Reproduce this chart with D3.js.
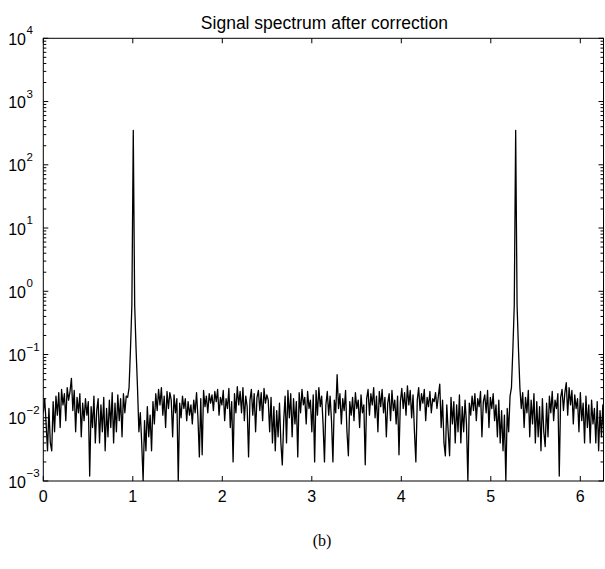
<!DOCTYPE html>
<html>
<head>
<meta charset="utf-8">
<script src="https://cdn.jsdelivr.net/npm/d3@7"></script>
<style>
body { margin: 0; background: #fff; }
text { font-family: "Liberation Sans", Arial, Helvetica, sans-serif; fill: #000; }
</style>
</head>
<body>
<svg id="chart" width="605" height="569"></svg>
<script>
// 谱线数据：401 个采样点，均匀分布在 [0, 2π]
const spectrum = [
  .012,.02,.008,.003,.014,.004,.003,.018,.006,.022,.011,.025,.007,.028,.016,.024,.009,.03,.019,.026,
  .042,.013,.027,.006,.021,.012,.024,.005,.017,.009,.02,.011,.018,.0012,.015,.007,.022,.004,.013,.02,
  .004,.016,.006,.021,.003,.014,.005,.019,.007,.025,.004,.017,.006,.023,.009,.02,.005,.024,.012,.022,
  .021,.03,.12,.6,350,.6,.12,.03,.006,.012,.004,.001,.009,.003,.015,.005,.011,.003,.018,.008,
  .024,.013,.028,.016,.03,.011,.022,.007,.026,.014,.025,.019,.005,.023,.012,.02,.001,.017,.01,.022,
  .014,.02,.009,.018,.011,.016,.008,.019,.012,.025,.01,.0024,.02,.0026,.027,.015,.022,.012,.024,.017,
  .023,.013,.026,.018,.028,.011,.021,.016,.027,.009,.02,.014,.029,.007,.018,.002,.024,.012,.031,.016,
  .026,.012,.03,.009,.022,.015,.0024,.019,.028,.011,.024,.006,.021,.027,.013,.025,.009,.029,.017,.023,
  .019,.006,.021,.004,.015,.003,.013,.005,.017,.004,.0018,.009,.022,.004,.027,.01,.024,.005,.02,.008,
  .018,.0024,.025,.012,.028,.016,.021,.008,.026,.014,.019,.006,.023,.002,.027,.011,.03,.015,.022,.008,
  .002,.016,.026,.011,.022,.009,.002,.019,.012,.048,.014,.024,.008,.02,.013,.027,.006,.0025,.018,.011,
  .021,.009,.025,.014,.019,.007,.023,.012,.016,.0018,.02,.028,.011,.024,.016,.03,.01,.022,.006,.026,
  .015,.028,.012,.021,.005,.017,.024,.009,.027,.013,.019,.008,.022,.0026,.018,.029,.014,.025,.011,.032,
  .016,.027,.01,.023,.006,.002,.019,.03,.013,.024,.017,.028,.009,.021,.015,.026,.012,.02,.018,.025,
  .014,.022,.034,.007,.019,.004,.0025,.016,.006,.0025,.021,.008,.018,.004,.016,.006,.023,.004,.015,.006,
  .019,.008,.001,.017,.011,.022,.013,.024,.009,.02,.015,.026,.005,.018,.023,.012,.027,.007,.021,.014,
  .024,.009,.016,.005,.019,.004,.013,.003,.011,.001,.014,.006,.022,.03,.12,.6,350,.6,.12,.03,
  .014,.025,.007,.021,.012,.027,.005,.019,.008,.024,.004,.018,.005,.015,.003,.02,.006,.0035,.017,.005,
  .022,.012,.026,.009,.019,.014,.024,.0012,.021,.028,.013,.025,.036,.011,.03,.016,.027,.008,.023,.014,
  .02,.006,.025,.009,.017,.004,.022,.007,.016,.004,.019,.008,.014,.004,.018,.003,.013,.005,.016,.004,
  .012
];

const xTicks = [0, 1, 2, 3, 4, 5, 6];
const yExponents = [-3, -2, -1, 0, 1, 2, 3, 4];
const chartTitle = "Signal spectrum after correction";
const caption = "(b)";

// 绘图区域
const plot = { left: 43.3, right: 603.5, top: 38.3, bottom: 481 };
const xMax = (plot.right - plot.left) / 89.5;

const svg = d3.select("#chart");

const x = d3.scaleLinear().domain([0, xMax]).range([plot.left, plot.right]);
const y = d3.scaleLog().domain([1e-3, 1e4]).range([plot.bottom, plot.top]);

const points = spectrum.map((v, i) => ({ x: i * 2 * Math.PI / (spectrum.length - 1), y: v }));

svg.append("clipPath").attr("id", "clip")
  .append("rect")
  .attr("x", plot.left).attr("y", plot.top)
  .attr("width", plot.right - plot.left).attr("height", plot.bottom - plot.top);

// 曲线
const line = d3.line().x(d => x(d.x)).y(d => y(d.y));
svg.append("path")
  .datum(points)
  .attr("clip-path", "url(#clip)")
  .attr("d", line)
  .attr("fill", "none")
  .attr("stroke", "#000")
  .attr("stroke-width", 1.3)
  .attr("stroke-linejoin", "round");

// 刻度
const ticks = svg.append("g").attr("stroke", "#000").attr("stroke-width", 1);
xTicks.forEach(t => {
  const px = x(t);
  ticks.append("line").attr("x1", px).attr("x2", px).attr("y1", plot.bottom).attr("y2", plot.bottom - 5);
  ticks.append("line").attr("x1", px).attr("x2", px).attr("y1", plot.top).attr("y2", plot.top + 5);
});

const minorValues = [];
yExponents.slice(0, -1).forEach(e => {
  for (let k = 2; k <= 9; k++) minorValues.push(k * Math.pow(10, e));
});
yExponents.forEach(e => {
  const py = y(Math.pow(10, e));
  ticks.append("line").attr("x1", plot.left).attr("x2", plot.left + 5).attr("y1", py).attr("y2", py);
  ticks.append("line").attr("x1", plot.right).attr("x2", plot.right - 5).attr("y1", py).attr("y2", py);
});
minorValues.forEach(v => {
  const py = y(v);
  ticks.append("line").attr("x1", plot.left).attr("x2", plot.left + 3).attr("y1", py).attr("y2", py);
  ticks.append("line").attr("x1", plot.right).attr("x2", plot.right - 3).attr("y1", py).attr("y2", py);
});

// 边框
svg.append("rect")
  .attr("x", plot.left).attr("y", plot.top)
  .attr("width", plot.right - plot.left).attr("height", plot.bottom - plot.top)
  .attr("fill", "none").attr("stroke", "#000").attr("stroke-width", 1);

// X 轴标签
svg.selectAll(".xlab")
  .data(xTicks)
  .enter()
  .append("text")
  .attr("class", "xlab")
  .attr("x", d => x(d))
  .attr("y", 502)
  .attr("text-anchor", "middle")
  .attr("font-size", "16px")
  .text(d => d);

// Y 轴标签 10^n
yExponents.forEach(e => {
  const py = y(Math.pow(10, e));
  svg.append("text")
    .attr("x", 26).attr("y", py + 6.5)
    .attr("text-anchor", "end")
    .attr("font-size", "16px")
    .text("10");
  svg.append("text")
    .attr("x", 26.5).attr("y", py - 4)
    .attr("font-size", "11.5px")
    .text(e < 0 ? "\u2212" + Math.abs(e) : e);
});

// 标题
svg.append("text")
  .attr("x", (plot.left + plot.right) / 2 + 1)
  .attr("y", 29)
  .attr("text-anchor", "middle")
  .attr("font-size", "17.5px")
  .text(chartTitle);

// 图注
svg.append("text")
  .attr("x", 322)
  .attr("y", 546)
  .attr("text-anchor", "middle")
  .attr("font-size", "16px")
  .style("font-family", "'Liberation Serif', 'Times New Roman', serif")
  .text(caption);
</script>
</body>
</html>
